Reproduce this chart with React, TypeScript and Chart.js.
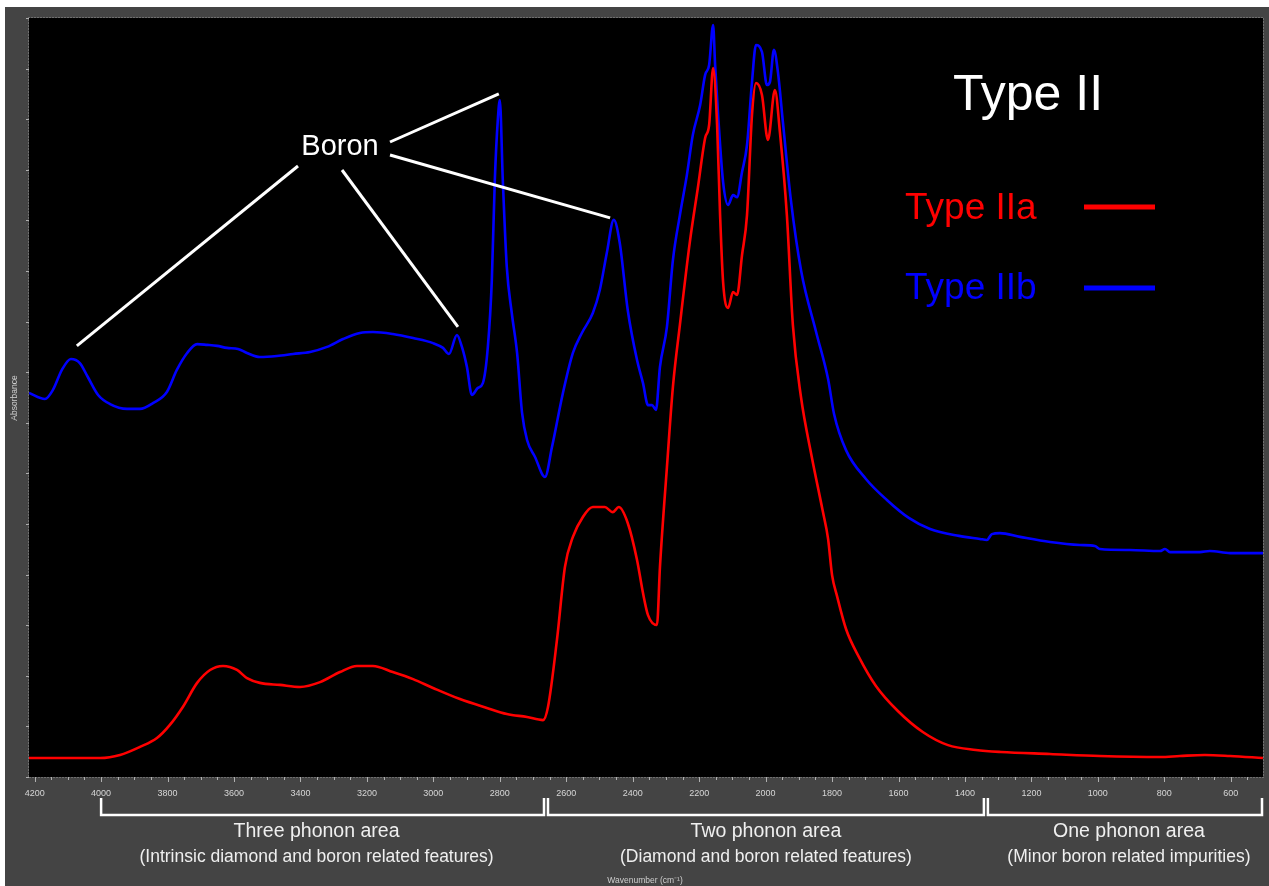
import React, { useEffect, useRef } from "react";
import { Chart, registerables } from "chart.js";

Chart.register(...registerables);

// ---- Data (wavenumber in cm^-1, absorbance in arbitrary units) ----
const typeIIbWavenumber = [
  4217, 4169, 4145, 4118, 4091, 4064, 4040, 4009, 3973, 3922, 3883, 3844, 3802, 3772, 3741, 3711,
  3681, 3651, 3621, 3588, 3561, 3522, 3471, 3422, 3371, 3320, 3272, 3221, 3182, 3122, 3061, 3001,
  2971, 2953, 2929, 2914, 2899, 2884, 2866, 2851, 2836, 2824, 2815, 2806, 2800, 2791, 2779, 2764,
  2748, 2733, 2718, 2694, 2664, 2643, 2610, 2580, 2553, 2520, 2499, 2478, 2457, 2439, 2415, 2387,
  2369, 2354, 2342, 2330, 2318, 2297, 2279, 2258, 2237, 2219, 2197, 2182, 2170, 2158, 2152, 2143,
  2128, 2113, 2098, 2086, 2071, 2056, 2041, 2029, 2011, 1996, 1987, 1975, 1963, 1948, 1924, 1893,
  1848, 1812, 1794, 1758, 1698, 1635, 1569, 1505, 1418, 1355, 1334, 1319, 1295, 1234, 1144, 1054,
  1009, 994, 903, 813, 798, 783, 693, 663, 602, 503,
];
const typeIIbAbsorbance = [
  1.518, 1.494, 1.53, 1.609, 1.652, 1.636, 1.581, 1.51, 1.474, 1.455, 1.455, 1.478, 1.522, 1.609, 1.676, 1.711,
  1.708, 1.704, 1.696, 1.692, 1.676, 1.66, 1.664, 1.672, 1.68, 1.7, 1.731, 1.755, 1.759, 1.751, 1.735, 1.715,
  1.696, 1.672, 1.747, 1.7, 1.621, 1.51, 1.538, 1.557, 1.7, 1.964, 2.36, 2.597, 2.676, 2.36, 2.016, 1.834,
  1.676, 1.439, 1.332, 1.265, 1.186, 1.304, 1.518, 1.676, 1.755, 1.834, 1.925, 2.071, 2.202, 2.111, 1.846, 1.648,
  1.557, 1.47, 1.47, 1.451, 1.621, 1.779, 2.043, 2.221, 2.379, 2.538, 2.656, 2.775, 2.814, 2.972, 2.814, 2.617,
  2.352, 2.261, 2.3, 2.292, 2.391, 2.498, 2.747, 2.893, 2.866, 2.735, 2.747, 2.874, 2.787, 2.589, 2.281, 2.0,
  1.759, 1.573, 1.435, 1.292, 1.178, 1.095, 1.024, 0.98, 0.953, 0.941, 0.937, 0.96, 0.964, 0.949, 0.929, 0.917,
  0.913, 0.901, 0.897, 0.893, 0.901, 0.889, 0.889, 0.893, 0.885, 0.885,
];

const typeIIaWavenumber = [
  4217, 4003, 3943, 3883, 3832, 3793, 3754, 3711, 3672, 3633, 3591, 3561, 3522, 3462, 3401, 3341,
  3281, 3230, 3182, 3122, 3061, 3001, 2920, 2839, 2779, 2718, 2670, 2655, 2628, 2604, 2580, 2550,
  2520, 2484, 2460, 2442, 2415, 2387, 2369, 2354, 2327, 2318, 2297, 2279, 2258, 2228, 2204, 2182,
  2170, 2158, 2146, 2137, 2128, 2113, 2098, 2086, 2071, 2056, 2041, 2029, 2011, 1993, 1972, 1957,
  1936, 1918, 1894, 1861, 1828, 1812, 1800, 1785, 1758, 1719, 1668, 1602, 1527, 1451, 1367, 1292,
  1144, 994, 813, 753, 678, 602, 503,
];
const typeIIaAbsorbance = [
  0.075, 0.075, 0.087, 0.119, 0.154, 0.206, 0.277, 0.372, 0.423, 0.439, 0.423, 0.391, 0.372, 0.364, 0.356, 0.375,
  0.415, 0.439, 0.439, 0.415, 0.387, 0.352, 0.308, 0.273, 0.249, 0.237, 0.225, 0.277, 0.542, 0.83, 0.949, 1.028,
  1.067, 1.067, 1.047, 1.067, 1.004, 0.858, 0.727, 0.64, 0.601, 0.83, 1.225, 1.542, 1.787, 2.115, 2.328, 2.526,
  2.577, 2.802, 2.577, 2.221, 1.957, 1.854, 1.917, 1.905, 2.063, 2.221, 2.617, 2.743, 2.696, 2.518, 2.715, 2.549,
  2.221, 1.787, 1.506, 1.265, 1.051, 0.941, 0.798, 0.715, 0.585, 0.474, 0.36, 0.261, 0.178, 0.126, 0.107, 0.099,
  0.091, 0.083, 0.079, 0.083, 0.087, 0.083, 0.075,
];

const xTickLabels = [4200, 4000, 3800, 3600, 3400, 3200, 3000, 2800, 2600, 2400, 2200, 2000, 1800, 1600, 1400, 1200, 1000, 800, 600];

const regionNames = ["Three phonon area", "Two phonon area", "One phonon area"];
const regionNotes = [
  "(Intrinsic diamond and boron related features)",
  "(Diamond and boron related features)",
  "(Minor boron related impurities)",
];
const regionBounds = [
  [4000, 2667],
  [2655, 1343],
  [1331, 506],
];

const FONT = '"Liberation Sans", Arial, Helvetica, sans-serif';
const OX = 5; // canvas offset in page
const OY = 7;

const decorPlugin = {
  id: "decor",
  beforeDraw(chart: any) {
    const { ctx, chartArea: ca, width, height } = chart;
    ctx.save();
    ctx.fillStyle = "#444444";
    ctx.fillRect(0, 0, width, height);
    ctx.fillStyle = "#000000";
    ctx.fillRect(ca.left, ca.top, ca.right - ca.left, ca.bottom - ca.top);
    ctx.restore();
  },
  afterDraw(chart: any) {
    const { ctx, chartArea: ca } = chart;
    const xs = chart.scales.x;
    const ys = chart.scales.y;
    const P = (x: number, y: number) => [x - OX, y - OY];
    ctx.save();

    // dotted frame
    ctx.strokeStyle = "#9a9a9a";
    ctx.lineWidth = 1;
    ctx.setLineDash([1, 2]);
    ctx.strokeRect(ca.left - 0.5, ca.top - 0.5, ca.right - ca.left + 1, ca.bottom - ca.top + 1);
    ctx.setLineDash([]);

    // x tick marks
    ctx.strokeStyle = "#b0b0b0";
    for (let v = 550; v <= 4200; v += 50) {
      const px = Math.round(xs.getPixelForValue(v)) + 0.5;
      const major = v % 200 === 0;
      ctx.beginPath();
      ctx.moveTo(px, ca.bottom);
      ctx.lineTo(px, ca.bottom + (major ? 5 : 3));
      ctx.stroke();
    }
    // y tick marks
    ys.ticks.forEach((t: any) => {
      const py = Math.round(ys.getPixelForValue(t.value)) + 0.5;
      ctx.beginPath();
      ctx.moveTo(ca.left - 3, py);
      ctx.lineTo(ca.left, py);
      ctx.stroke();
    });

    // Axis titles
    ctx.fillStyle = "#cfcfcf";
    ctx.font = `8.5px ${FONT}`;
    ctx.textAlign = "center";
    ctx.textBaseline = "middle";
    {
      const [tx, ty] = P(645, 881);
      ctx.fillText("Wavenumber (cm\u207B\u00B9)", tx, ty);
      const [ax, ay] = P(15, 398);
      ctx.save();
      ctx.translate(ax, ay);
      ctx.rotate(-Math.PI / 2);
      ctx.fillText("Absorbance", 0, 0);
      ctx.restore();
    }

    // Region brackets and labels
    ctx.strokeStyle = "#ffffff";
    ctx.lineWidth = 2.5;
    ctx.lineJoin = "miter";
    const [, bTop] = P(0, 798);
    const [, bBot] = P(0, 815);
    const textShift = [-6, 0, 4];
    regionBounds.forEach((b, i) => {
      const x1 = xs.getPixelForValue(b[0]);
      const x2 = xs.getPixelForValue(b[1]);
      ctx.beginPath();
      ctx.moveTo(x1, bTop);
      ctx.lineTo(x1, bBot);
      ctx.lineTo(x2, bBot);
      ctx.lineTo(x2, bTop);
      ctx.stroke();
      const cx = (x1 + x2) / 2 + textShift[i];
      ctx.fillStyle = "#efefef";
      ctx.textAlign = "center";
      ctx.textBaseline = "middle";
      ctx.font = `19.5px ${FONT}`;
      ctx.fillText(regionNames[i], cx, P(0, 832)[1]);
      ctx.font = `17.5px ${FONT}`;
      ctx.fillText(regionNotes[i], cx, P(0, 857)[1]);
    });

    // Boron annotation
    ctx.strokeStyle = "#ffffff";
    ctx.lineWidth = 3;
    ctx.lineCap = "butt";
    const pointers: [number, number, number, number][] = [
      [390, 142, 2803, 2.70],
      [390, 155, 2468, 2.21],
      [298, 166, 4073, 1.704],
      [342, 170, 2926, 1.779],
    ];
    pointers.forEach(([sx, sy, wn, ab]) => {
      const [a, b] = P(sx, sy);
      ctx.beginPath();
      ctx.moveTo(a, b);
      ctx.lineTo(xs.getPixelForValue(wn), ys.getPixelForValue(ab));
      ctx.stroke();
    });
    ctx.fillStyle = "#ffffff";
    ctx.font = `29px ${FONT}`;
    ctx.textAlign = "center";
    ctx.textBaseline = "middle";
    {
      const [bx, by] = P(340, 147);
      ctx.fillText("Boron", bx, by);
    }

    // Title and legend
    ctx.textBaseline = "alphabetic";
    ctx.font = `50px ${FONT}`;
    {
      const [tx, ty] = P(1028, 110);
      ctx.fillText("Type II", tx, ty);
    }
    ctx.textAlign = "left";
    ctx.font = `37px ${FONT}`;
    const legend = [
      { label: chart.data.datasets[0].label, color: chart.data.datasets[0].borderColor, base: 219, line: 207 },
      { label: chart.data.datasets[1].label, color: chart.data.datasets[1].borderColor, base: 299, line: 288 },
    ];
    legend.forEach((l) => {
      const [lx, ly] = P(905, l.base);
      ctx.fillStyle = l.color;
      ctx.fillText(l.label, lx, ly);
      const [x1, y1] = P(1084, l.line);
      const [x2] = P(1155, l.line);
      ctx.strokeStyle = l.color;
      ctx.lineWidth = 5;
      ctx.beginPath();
      ctx.moveTo(x1, y1);
      ctx.lineTo(x2, y1);
      ctx.stroke();
    });

    ctx.restore();
  },
};

export default function App() {
  const ref = useRef<HTMLCanvasElement | null>(null);

  useEffect(() => {
    document.body.style.margin = "0";
    const canvas = ref.current;
    if (!canvas) return;
    const chart = new Chart(canvas, {
      type: "line",
      data: {
        datasets: [
          {
            label: "Type IIa",
            data: typeIIaWavenumber.map((x, i) => ({ x, y: typeIIaAbsorbance[i] })),
            borderColor: "#ff0000",
            borderWidth: 2.6,
            pointRadius: 0,
            fill: false,
            cubicInterpolationMode: "monotone",
          },
          {
            label: "Type IIb",
            data: typeIIbWavenumber.map((x, i) => ({ x, y: typeIIbAbsorbance[i] })),
            borderColor: "#0000ff",
            borderWidth: 2.6,
            pointRadius: 0,
            fill: false,
            cubicInterpolationMode: "monotone",
          },
        ],
      },
      options: {
        responsive: false,
        devicePixelRatio: 1,
        animation: false,
        events: [],
        layout: { padding: { left: 0, top: 11, right: 6, bottom: 0 } },
        plugins: {
          legend: { display: false },
          tooltip: { enabled: false },
          title: { display: false },
        },
        scales: {
          x: {
            type: "linear",
            reverse: true,
            min: 503,
            max: 4217,
            afterBuildTicks: (s: any) => {
              s.ticks = xTickLabels.map((v) => ({ value: v }));
            },
            afterFit: (s: any) => {
              s.height = 109;
            },
            ticks: {
              autoSkip: false,
              maxRotation: 0,
              padding: 3,
              color: "#d6d6d6",
              font: { size: 9, family: FONT },
              callback: (v: any) => String(v),
            },
            grid: { display: false },
            border: { display: false },
          },
          y: {
            type: "linear",
            min: 0,
            max: 3,
            ticks: { display: false, stepSize: 0.2 },
            afterFit: (s: any) => {
              s.width = 24;
            },
            grid: { display: false },
            border: { display: false },
          },
        },
      },
      plugins: [decorPlugin],
    } as any);
    return () => chart.destroy();
  }, []);

  return (
    <div style={{ position: "absolute", left: OX, top: OY, width: 1264, height: 879 }}>
      <canvas ref={ref} width={1264} height={879} style={{ display: "block" }} />
    </div>
  );
}
